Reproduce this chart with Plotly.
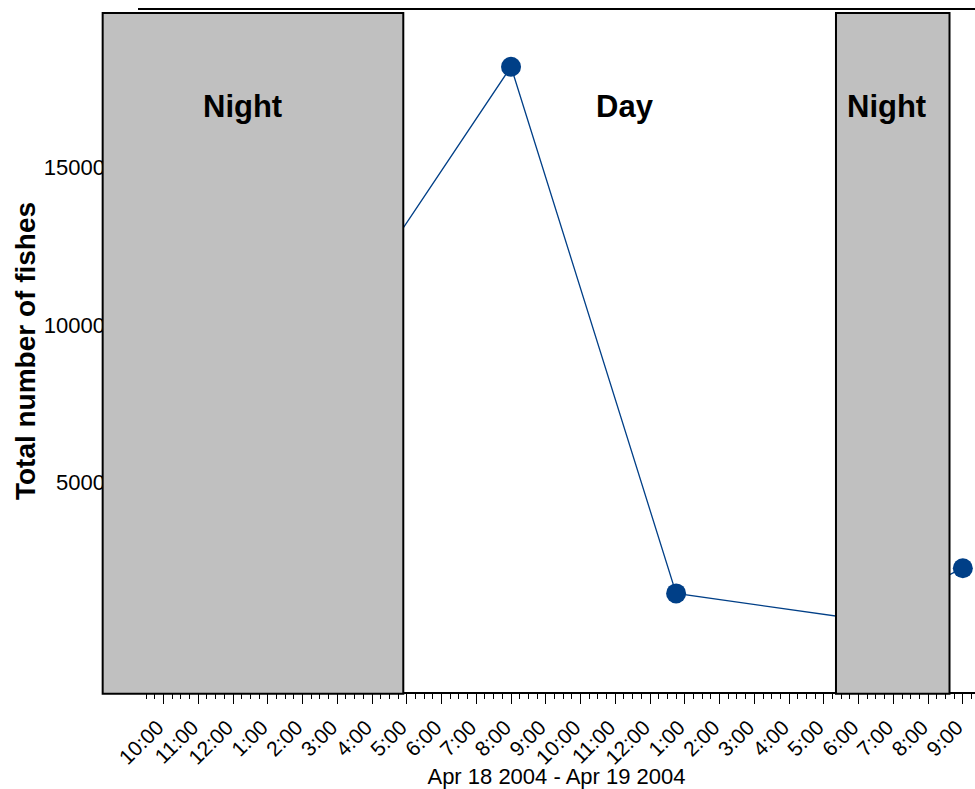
import pandas as pd
import plotly.graph_objects as go

# ---- data ----
times = ["2004-04-18 22:00", "2004-04-19 08:00", "2004-04-19 12:45",
         "2004-04-19 18:00", "2004-04-19 21:00"]
fishes = [1700, 18200, 1480, 660, 2280]

night_starts = ["2004-04-18 20:15", "2004-04-19 17:21"]
night_ends = ["2004-04-19 04:54", "2004-04-19 20:37"]

period_labels = ["Night", "Day", "Night"]
period_label_times = ["2004-04-19 00:17", "2004-04-19 11:17", "2004-04-19 18:49"]

y_ticks = [5000, 10000, 15000]
x_range = ["2004-04-18 21:16", "2004-04-19 21:21"]
y_range = [-1650, 20000]

FONT = "Liberation Sans, Arial, sans-serif"
BLUE = "#003f87"

r0, r1 = pd.Timestamp(x_range[0]), pd.Timestamp(x_range[1])


def x_to_paper(t):
    # position of a time on the x axis, as a fraction of the plot width
    return (pd.Timestamp(t) - r0) / (r1 - r0)


fig = go.Figure()
fig.add_trace(go.Scatter(
    x=times, y=fishes, mode="lines+markers",
    line=dict(color=BLUE, width=1.3),
    marker=dict(color=BLUE, size=20),
    showlegend=False,
))

for s, e in zip(night_starts, night_ends):
    fig.add_shape(type="rect", xref="paper", yref="paper",
                  x0=x_to_paper(s), x1=x_to_paper(e), y0=-0.0025, y1=0.9956,
                  fillcolor="#c0c0c0", line=dict(color="black", width=2),
                  layer="above")

for lab, t in zip(period_labels, period_label_times):
    fig.add_annotation(x=t, y=0.859, xref="x", yref="paper", text=lab,
                       showarrow=False, xanchor="center", yanchor="middle",
                       font=dict(family=FONT, size=31, color="black", weight="bold"))

fig.update_layout(
    width=975, height=789,
    margin=dict(l=138, r=0, t=10, b=97),
    paper_bgcolor="white", plot_bgcolor="white",
    font=dict(family=FONT, color="black"),
    xaxis=dict(
        type="date", range=x_range,
        showline=True, linecolor="black", linewidth=1.5, mirror=True,
        showgrid=False, zeroline=False,
        ticks="outside", ticklen=10, tickwidth=1, tickcolor="black",
        tick0="2004-04-18 22:00", dtick=3600000,
        tickformat="%-I:%M", tickangle=-45,
        ticklabelstandoff=3, ticklabelshift=-6,
        tickfont=dict(family=FONT, size=21, color="black"),
        minor=dict(ticks="outside", ticklen=5, tickwidth=1, tickcolor="black",
                   dtick=900000, showgrid=False),
        title=dict(text="Apr 18 2004 - Apr 19 2004", standoff=1,
                   font=dict(family=FONT, size=22, color="black")),
    ),
    yaxis=dict(
        range=y_range, showline=False, showgrid=False, zeroline=False,
        tickvals=y_ticks, tickformat="d", ticks="", ticklabelstandoff=32,
        tickfont=dict(family=FONT, size=22, color="black"),
        title=dict(text="<b>Total number of fishes</b>", standoff=0,
                   font=dict(family=FONT, size=28, color="black")),
    ),
)

fig.write_html(
    "out.html",
    config={"displayModeBar": False},
    post_script="document.body.style.margin='0';"
                "document.documentElement.style.overflow='hidden';",
)
